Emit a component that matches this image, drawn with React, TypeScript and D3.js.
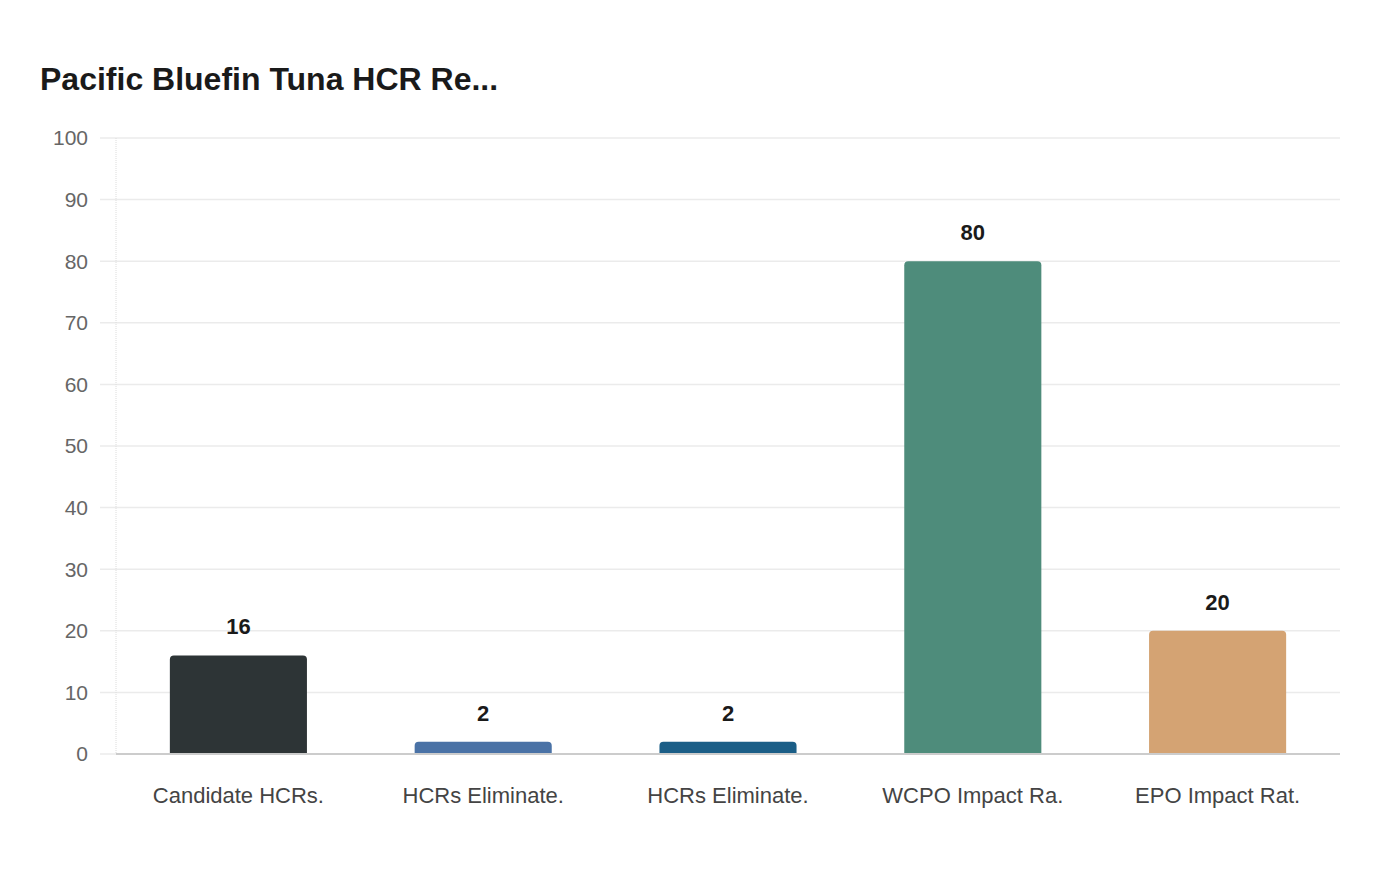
import { useEffect, useRef } from "react";
import * as d3 from "d3";

const CATEGORIES = ["Candidate HCRs.", "HCRs Eliminate.", "HCRs Eliminate. ", "WCPO Impact Ra.", "EPO Impact Rat."];
const VALUES = [16, 2, 2, 80, 20];
const COLORS = ["#2d3436", "#4a72a6", "#1b5e87", "#4e8c7b", "#d4a373"];
const Y_TICKS = [0, 10, 20, 30, 40, 50, 60, 70, 80, 90, 100];

const W = 1400, H = 880;
const MARGIN = { top: 138, right: 60, bottom: 126, left: 116 };
const FONT = "'Liberation Sans', Arial, sans-serif";

export default function App() {
  const svgRef = useRef<SVGSVGElement>(null);

  useEffect(() => {
    document.body.style.margin = "0";
    if (!svgRef.current) return;
    const svg = d3.select(svgRef.current);
    svg.selectAll("*").remove();

    const cw = W - MARGIN.left - MARGIN.right, ch = H - MARGIN.top - MARGIN.bottom;
    const g = svg.append("g").attr("transform", `translate(${MARGIN.left},${MARGIN.top})`);

    const x = d3.scaleBand().domain(CATEGORIES).range([0, cw]).paddingInner(0.44).paddingOuter(0.22);
    const y = d3.scaleLinear().domain([0, 100]).range([ch, 0]);

    // grid + y ticks
    g.selectAll(".grid").data(Y_TICKS).join("line")
      .attr("x1", -16).attr("x2", cw)
      .attr("y1", d => y(d)).attr("y2", d => y(d))
      .attr("stroke", "#ebebeb").attr("stroke-width", 1.5);

    g.selectAll(".ytick").data(Y_TICKS).join("text")
      .attr("x", -28).attr("y", d => y(d)).attr("dy", "0.35em")
      .attr("text-anchor", "end").attr("fill", "#666").attr("font-size", "21px").attr("font-family", FONT)
      .text(d => d);

    g.append("line").attr("x1", 0).attr("x2", 0).attr("y1", 0).attr("y2", ch)
      .attr("stroke", "#dcdcdc").attr("stroke-width", 1).attr("stroke-dasharray", "1,1");

    const r = 4;
    const barPath = (d: number, i: number) => {
      const x0 = x(CATEGORIES[i])!, bw = x.bandwidth();
      const y0 = y(d), yb = ch;
      const rr = Math.min(r, (yb - y0));
      return `M${x0},${yb}V${y0 + rr}Q${x0},${y0} ${x0 + rr},${y0}H${x0 + bw - rr}Q${x0 + bw},${y0} ${x0 + bw},${y0 + rr}V${yb}Z`;
    };

    g.selectAll(".bar").data(VALUES).join("path")
      .attr("d", (d, i) => barPath(d, i))
      .attr("fill", (_, i) => COLORS[i]);

    g.selectAll(".vlbl").data(VALUES).join("text")
      .attr("x", (_, i) => x(CATEGORIES[i])! + x.bandwidth() / 2).attr("y", d => y(d) - 21)
      .attr("text-anchor", "middle").attr("fill", "#1a1a1a").attr("font-size", "22px")
      .attr("font-weight", "700").attr("font-family", FONT)
      .text(d => d);

    g.append("line").attr("x1", 0).attr("x2", cw).attr("y1", ch).attr("y2", ch)
      .attr("stroke", "#cccccc").attr("stroke-width", 2);

    g.selectAll(".xlbl").data(CATEGORIES).join("text")
      .attr("x", d => x(d)! + x.bandwidth() / 2).attr("y", ch + 49)
      .attr("text-anchor", "middle").attr("fill", "#444").attr("font-size", "22px").attr("font-family", FONT)
      .text(d => d.trim());

    svg.append("text").attr("x", 40).attr("y", 90)
      .attr("font-family", FONT).attr("font-size", "32px").attr("font-weight", "700").attr("fill", "#1a1a1a")
      .text("Pacific Bluefin Tuna HCR Re...");
  }, []);

  return <svg ref={svgRef} width={W} height={H} style={{ display: "block", background: "#fff" }} />;
}
